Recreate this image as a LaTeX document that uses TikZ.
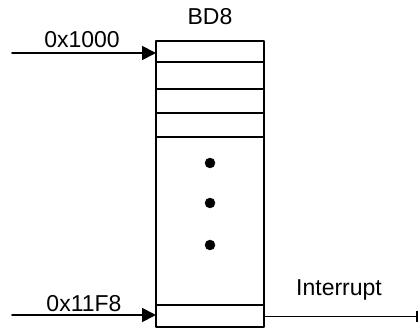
\documentclass[tikz,border=0pt]{standalone}
\usepackage{fontspec}
\setmainfont{Liberation Sans}
\usetikzlibrary{arrows.meta,calc}
\usepackage{tkz-euclide}

\tikzset{tablabel/.style={anchor=base,inner sep=0pt,font=\fontsize{23}{27}\selectfont}}

\begin{document}
\begin{tikzpicture}[x=1pt,y=1pt]
\useasboundingbox (0,0) rectangle (420,329);
\tkzSetUpLine[line width=1.8pt,color=black]
\tkzSetUpPoint[fill=black]

% the BD8 table
\tkzDefPoints{156/2/A,264/2/B,264/288/C,156/288/D}
\tkzDefPoints{156/267/L1,264/267/R1,156/240/L2,264/240/R2,
  156/216/L3,264/216/R3,156/192/L4,264/192/R4,156/24/L5,264/24/R5}

% entries and exit
\tkzDefPoints{12/276/S,156/276/E,12/14/T,156/14/F}
\tkzDefPoints{264/12.5/G,418/12.5/H}

% dots
\tkzDefPoints{210/166/P1,210/126/P2,210/84/P3}

% label points
\tkzDefPoints{210/304/N,82/281/M,84/17/K,339/33/J}

\tkzDrawPolygon[line width=1.8pt](A,B,C,D)
\tkzDrawSegments[line width=1.8pt](L1,R1 L2,R2 L3,R3 L4,R4 L5,R5)
\tkzDrawSegments[line width=1.8pt,-{Triangle[length=14pt,width=14pt]}](S,E T,F)
\tkzDrawSegments[line width=1.8pt,-{Bar[width=11pt]}](G,H)

\tkzDrawPoints[size=10](P1,P2,P3)

\tkzLabelPoint[tablabel](N){BD8}
\tkzLabelPoint[tablabel](M){0x1000}
\tkzLabelPoint[tablabel](K){0x11F8}
\tkzLabelPoint[tablabel](J){Interrupt}

\end{tikzpicture}
\end{document}
